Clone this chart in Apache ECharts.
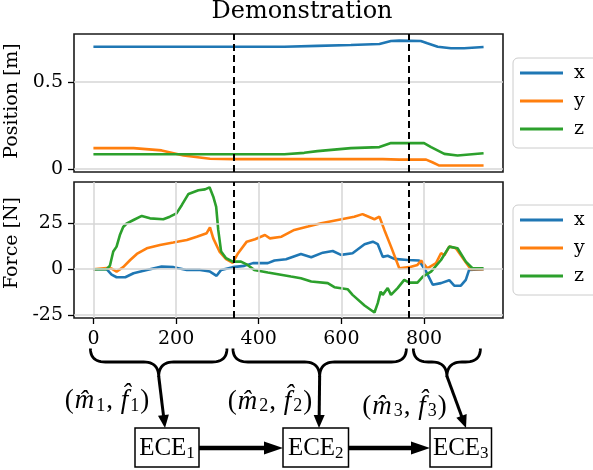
<!DOCTYPE html>
<html><head><meta charset="utf-8">
<script src="https://cdn.jsdelivr.net/npm/echarts@6/dist/echarts.min.js"></script>
<style>html,body{margin:0;padding:0;background:#fff}#c{width:593px;height:470px}</style>
</head><body><div id="c"></div>
<script>
// ---------- data ----------
const seriesNames = ['x', 'y', 'z'];
const posX = [[0,0.703],[340,0.703],[462,0.703],[542,0.708],[623,0.713],[692,0.719],[720,0.736],[740,0.738],[792,0.736],[808,0.723],[833,0.703],[865,0.694],[897,0.694],[944,0.701]];
const posY = [[0,0.121],[97,0.121],[165,0.108],[218,0.079],[282,0.060],[340,0.058],[700,0.058],[740,0.055],[805,0.055],[820,0.040],[837,0.021],[944,0.021]];
const posZ = [[0,0.086],[462,0.086],[510,0.094],[542,0.104],[623,0.121],[692,0.127],[720,0.150],[800,0.150],[817,0.127],[849,0.088],[881,0.079],[944,0.092]];
const forceX = [[0,0],[32,0],[44,-3],[56,-4.4],[77,-4.4],[97,-2.2],[129,-0.4],[165,1.4],[194,1.1],[226,-0.4],[258,-0.4],[282,-1.3],[298,-3.6],[309,-0.4],[337,1.1],[365,1.8],[386,3.3],[422,3.3],[438,4.7],[466,5.4],[502,8.3],[527,6.5],[555,9],[579,9.9],[599,7.8],[627,8.7],[656,13.6],[676,15],[688,13.6],[700,6.7],[712,7.3],[728,5.6],[760,5],[788,4.7],[805,-1.3],[821,-8.5],[841,-7.6],[861,-6],[873,-9],[889,-9],[901,-5.8],[909,-0.4],[944,0]];
const forceY = [[0,0],[32,0.6],[44,0.3],[56,-1.3],[72,1.1],[89,5],[105,8.3],[129,11.4],[161,13.2],[193,14.5],[226,15.9],[250,17.7],[274,19.6],[282,22.8],[290,16.8],[305,9.6],[321,5.5],[337,3.5],[350,8.7],[371,15],[391,16.3],[415,18.6],[427,16.8],[455,17.7],[486,21.4],[519,23.2],[551,25],[591,26.8],[631,28.6],[651,30],[656,29.5],[680,27.2],[692,28.6],[704,21.4],[720,12.3],[740,0.5],[764,1.1],[784,2.3],[793,4.7],[808,0.5],[829,3.3],[841,8.7],[849,7.6],[861,12.3],[877,11.4],[897,5],[913,0],[944,0]];
const forceZ = [[0,0],[32,0],[40,2],[48,9.6],[56,12.3],[64,18.6],[72,23],[81,25],[97,26.8],[117,29],[137,27.7],[169,27.2],[185,28.6],[201,30.4],[214,35],[230,41],[254,43],[270,43.5],[281,44.6],[290,39.5],[297,34],[302,21.4],[309,9.6],[321,6],[337,4.1],[357,4.1],[373,2.3],[389,-0.4],[422,-1.8],[478,-4],[502,-4.9],[527,-6.7],[567,-7.6],[583,-9.8],[615,-10.9],[627,-14],[656,-19.8],[680,-23.6],[688,-18.5],[695,-12.2],[700,-14],[712,-10.3],[720,-14],[736,-10.3],[752,-5.8],[764,-7.3],[784,-7.3],[797,-4],[817,-1.3],[841,5],[861,12.3],[881,11.4],[901,4.1],[917,0.5],[944,0.5]];
const segmentBounds = [0, 340, 762, 946];
const dashedAt = [340, 762];
const xTicks = [0, 200, 400, 600, 800];
const posTicks = [0, 0.5];
const forceTicks = [-25, 0, 25];
const segmentIndex = ['1', '2', '3'];

// ---------- axis ranges ----------
const X_RANGE = [-47, 991];
const POS_RANGE = [-0.016, 0.776];
const FORCE_RANGE = [-26.6, 47.5];

// ---------- styles ----------
const colors = ['#1f77b4', '#ff7f0e', '#2ca02c'];
const FONT = 'DejaVu Serif';
const MATH = 'Liberation Serif';
const tickStyle = { color: '#000', width: 1.3 };

const chart = echarts.init(document.getElementById('c'), null, { renderer: 'canvas' });

function lineSeries(name, data, gi, idx) {
  const s = {
    name, type: 'line', data, xAxisIndex: gi, yAxisIndex: gi, z: 3,
    showSymbol: false, symbol: 'none', smooth: false, animation: false,
    lineStyle: { width: 2.6, color: colors[idx] }, itemStyle: { color: colors[idx] }
  };
  if (idx === 2) {
    s.markLine = {
      silent: true, symbol: ['none', 'none'], animation: false,
      label: { show: false },
      lineStyle: { color: '#000', type: [7, 4], width: 2 },
      data: dashedAt.map(v => ({ xAxis: v }))
    };
  }
  return s;
}
// light grid lines at the tick values, drawn beneath the data
function gridSeries(gi, xVals, yVals, yRange) {
  const v = xVals.map(x => [{ coord: [x, yRange[0]] }, { coord: [x, yRange[1]] }]);
  const h = yVals.map(y => [{ coord: [X_RANGE[0], y] }, { coord: [X_RANGE[1], y] }]);
  return {
    name: 'grid' + gi, type: 'line', xAxisIndex: gi, yAxisIndex: gi, z: 1, silent: true,
    data: [], showSymbol: false, animation: false,
    markLine: {
      silent: true, symbol: ['none', 'none'], animation: false, label: { show: false },
      lineStyle: { color: '#d6d6d6', type: 'solid', width: 1.5 },
      data: v.concat(h)
    }
  };
}

function legendAt(top) {
  return {
    data: seriesNames, orient: 'vertical', left: 513, top,
    padding: [5, 34, 9, 7], itemGap: 8, itemWidth: 43, itemHeight: 3, icon: 'rect',
    backgroundColor: 'rgba(255,255,255,0.8)', borderColor: '#cccccc', borderWidth: 1, borderRadius: 5,
    selectedMode: false,
    textStyle: { fontFamily: FONT, fontSize: 19, color: '#000', lineHeight: 20, padding: [0, 0, 0, 6] }
  };
}

const labelStyle = { fontFamily: FONT, fontSize: 19, color: '#000' };
const noLine = { show: false, onZero: false };
const gridBase = { left: 74, right: 90, show: true, borderColor: '#1a1a1a', borderWidth: 1.6,
  backgroundColor: 'transparent', containLabel: false, outerBoundsMode: 'none' };

chart.setOption({
  animation: false,
  backgroundColor: '#fff',
  title: {
    text: 'Demonstration', left: 302, textAlign: 'center', top: 0, padding: 0,
    textStyle: { fontFamily: FONT, fontSize: 24, fontWeight: 'normal', color: '#000' }
  },
  legend: [legendAt(58), legendAt(205)],
  grid: [
    Object.assign({ top: 34, height: 138 }, gridBase),
    Object.assign({ top: 182, height: 136 }, gridBase)
  ],
  xAxis: [
    { type: 'value', gridIndex: 0, min: X_RANGE[0], max: X_RANGE[1],
      axisLine: noLine, axisTick: { show: false }, axisLabel: { show: false }, splitLine: { show: false } },
    { type: 'value', gridIndex: 1, min: X_RANGE[0], max: X_RANGE[1], position: 'bottom',
      axisLine: noLine,
      axisTick: { show: true, length: 6, lineStyle: tickStyle, customValues: xTicks },
      axisLabel: Object.assign({ customValues: xTicks, margin: 12 }, labelStyle),
      splitLine: { show: false } }
  ],
  yAxis: [
    { type: 'value', gridIndex: 0, min: POS_RANGE[0], max: POS_RANGE[1], position: 'left',
      axisLine: noLine,
      axisTick: { show: true, length: 6, lineStyle: tickStyle, customValues: posTicks },
      axisLabel: Object.assign({ customValues: posTicks, margin: 11, formatter: v => String(v) }, labelStyle),
      splitLine: { show: false },
      name: 'Position [m]', nameLocation: 'middle', nameGap: 45,
      nameTextStyle: Object.assign({ padding: [0, 0, 0, 4] }, labelStyle) },
    { type: 'value', gridIndex: 1, min: FORCE_RANGE[0], max: FORCE_RANGE[1], position: 'left',
      axisLine: noLine,
      axisTick: { show: true, length: 6, lineStyle: tickStyle, customValues: forceTicks },
      axisLabel: Object.assign({ customValues: forceTicks, margin: 11, formatter: v => String(v) }, labelStyle),
      splitLine: { show: false },
      name: 'Force [N]', nameLocation: 'middle', nameGap: 45,
      nameTextStyle: Object.assign({ padding: [0, 0, 0, 14] }, labelStyle) }
  ],
  series: [
    gridSeries(0, [], posTicks, POS_RANGE), gridSeries(1, xTicks, forceTicks, FORCE_RANGE),
    lineSeries('x', posX, 0, 0), lineSeries('y', posY, 0, 1), lineSeries('z', posZ, 0, 2),
    lineSeries('x', forceX, 1, 0), lineSeries('y', forceY, 1, 1), lineSeries('z', forceZ, 1, 2)
  ]
});

// ---------- diagram below the axes ----------
const px = v => chart.convertToPixel({ xAxisIndex: 1 }, v);
const braceTop = 348.5, braceMid = 362, braceTip = 377, braceR = 15;
const braceAdjust = [[-3, -7], [-1, -2], [5, -4]];
const boxes = [[135, 64], [283, 65.5], [430, 61.5]];
const boxTop = 428, boxH = 39;
const arrowEndX = [165, 319, 466];
const labelPos = [[107, 401], [270, 401.5], [404.5, 406.5]];

function quad(p0, c, p1, n) {
  const pts = [];
  for (let i = 0; i <= n; i++) {
    const t = i / n, a = (1 - t) * (1 - t), b = 2 * (1 - t) * t, d = t * t;
    pts.push([a * p0[0] + b * c[0] + d * p1[0], a * p0[1] + b * c[1] + d * p1[1]]);
  }
  return pts;
}
function bracePoints(x1, x2) {
  const xc = (x1 + x2) / 2;
  return [].concat(
    quad([x1, braceTop], [x1, braceMid], [x1 + braceR, braceMid], 12),
    quad([xc - braceR, braceMid], [xc, braceMid], [xc, braceTip], 12),
    quad([xc, braceTip], [xc, braceMid], [xc + braceR, braceMid], 12),
    quad([x2 - braceR, braceMid], [x2, braceMid], [x2, braceTop], 12)
  );
}
function arrow(x0, y0, x1, y1, w, L, W) {
  const dx = x1 - x0, dy = y1 - y0, len = Math.hypot(dx, dy);
  const ux = dx / len, uy = dy / len, nx = -uy, ny = ux;
  const bx = x1 - ux * L, by = y1 - uy * L;
  return [
    { type: 'line', shape: { x1: x0, y1: y0, x2: bx + ux * 2, y2: by + uy * 2 }, style: { stroke: '#000', lineWidth: w }, z: 100 },
    { type: 'polygon', shape: { points: [[x1, y1], [bx + nx * W, by + ny * W], [bx - nx * W, by - ny * W]] }, style: { fill: '#000' }, z: 100 }
  ];
}

const g = [];
for (let i = 0; i < 3; i++) {
  const x1 = px(segmentBounds[i]) + braceAdjust[i][0];
  const x2 = px(segmentBounds[i + 1]) + braceAdjust[i][1];
  const xc = (x1 + x2) / 2;
  g.push({ type: 'polyline', shape: { points: bracePoints(x1, x2) }, style: { stroke: '#000', lineWidth: 2.8, fill: null }, z: 100 });
  g.push(...arrow(xc, braceTip - 1, arrowEndX[i], boxTop, 3, 13, 5.5));
  const bx = boxes[i][0], bw = boxes[i][1];
  g.push({ type: 'rect', shape: { x: bx, y: boxTop, width: bw, height: boxH }, style: { fill: '#fff', stroke: '#000', lineWidth: 1.5 }, z: 100 });
  g.push({ type: 'text', x: bx + bw / 2, y: boxTop + boxH / 2 + 1, z: 101,
    style: { text: '{e|ECE}{s|' + segmentIndex[i] + '}', align: 'center', verticalAlign: 'middle',
      rich: { e: { fontFamily: MATH, fontSize: 25, fill: '#000', lineHeight: 28 },
              s: { fontFamily: MATH, fontSize: 17, fill: '#000', lineHeight: 28, verticalAlign: 'bottom', padding: [10, 0, 0, 0] } } } });
  g.push({ type: 'text', x: labelPos[i][0], y: labelPos[i][1], z: 101,
    style: { text: '{n|(}{i|m\u0302}{s|' + segmentIndex[i] + '}{n|, }{i|f\u0302}{s|' + segmentIndex[i] + '}{n|)}',
      align: 'center', verticalAlign: 'middle',
      rich: { n: { fontFamily: MATH, fontSize: 27, fill: '#000', lineHeight: 30 },
              i: { fontFamily: MATH, fontStyle: 'italic', fontSize: 27, fill: '#000', lineHeight: 30, padding: [0, 1, 0, 1] },
              s: { fontFamily: MATH, fontSize: 18, fill: '#000', lineHeight: 30, padding: [10, 1, 0, 1] } } } });
}
for (let i = 0; i < 2; i++) {
  const xa = boxes[i][0] + boxes[i][1], xb = boxes[i + 1][0];
  g.push(...arrow(xa, boxTop + boxH / 2 + 0.5, xb, boxTop + boxH / 2 + 0.5, 4.5, 19, 6.5));
}
chart.setOption({ graphic: { elements: g } });
</script>
</body></html>
